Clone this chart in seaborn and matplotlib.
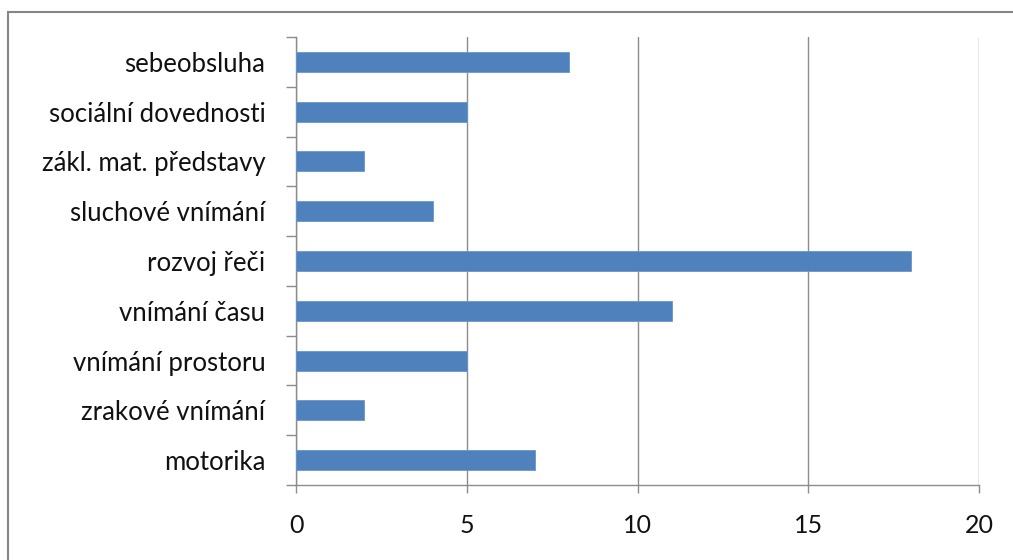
import matplotlib
matplotlib.use("Agg")
import matplotlib.pyplot as plt
import seaborn as sns
import pandas as pd
from matplotlib.patches import Rectangle
from matplotlib.ticker import FixedLocator

categories = ["sebeobsluha", "sociální dovednosti", "zákl. mat. představy",
              "sluchové vnímání", "rozvoj řeči", "vnímání času",
              "vnímání prostoru", "zrakové vnímání", "motorika"]
values = [8, 5, 2, 4, 18, 11, 5, 2, 7]
x_ticks = [0, 5, 10, 15, 20]

df = pd.DataFrame({"kategorie": categories, "pocet": values})

sns.set_theme(style="white")
plt.rcParams['font.family'] = ['Lato', 'DejaVu Sans']

W, H = 1013, 560
fig = plt.figure(figsize=(W / 100, H / 100), dpi=100)
ax = fig.add_axes([296 / W, 1 - 485 / H, (979 - 296) / W, (485 - 37) / H])

sns.barplot(data=df, x="pocet", y="kategorie", color="#4F81BD", width=0.4,
            saturation=1, ax=ax, orient="h", edgecolor="#6A96CC", linewidth=0.6,
            zorder=3)

ax.set_xlim(0, 20)
ax.set_ylim(len(categories) - 0.5, -0.5)
ax.set_xticks(x_ticks)
ax.set_xticklabels([str(t) for t in x_ticks])
ax.xaxis.grid(True, color="#8C8C8C", linewidth=1.0, zorder=0)
ax.set_axisbelow(True)
ax.set_xlabel("")
ax.set_ylabel("")

for s in ["top", "right"]:
    ax.spines[s].set_visible(False)
for s in ["left", "bottom"]:
    ax.spines[s].set_color("#8C8C8C")
    ax.spines[s].set_linewidth(1.0)

ax.tick_params(axis="x", which="major", length=6, width=1.0, color="#8C8C8C",
               direction="out", bottom=True, pad=15, labelsize=18, labelcolor="#111111")
ax.tick_params(axis="y", which="major", length=0, pad=22, labelsize=18.5,
               labelcolor="#111111", left=False)
ax.yaxis.set_minor_locator(FixedLocator([i - 0.5 for i in range(len(categories) + 1)]))
ax.tick_params(axis="y", which="minor", length=7, width=1.0, color="#8C8C8C",
               direction="out", left=True)

border = Rectangle((8 / W, -0.1), 1.2, 1 - 12 / H + 0.1, transform=fig.transFigure,
                   fill=False, edgecolor="#868686", linewidth=1.5)
fig.patches.append(border)

fig.savefig("out.png", dpi=100)
